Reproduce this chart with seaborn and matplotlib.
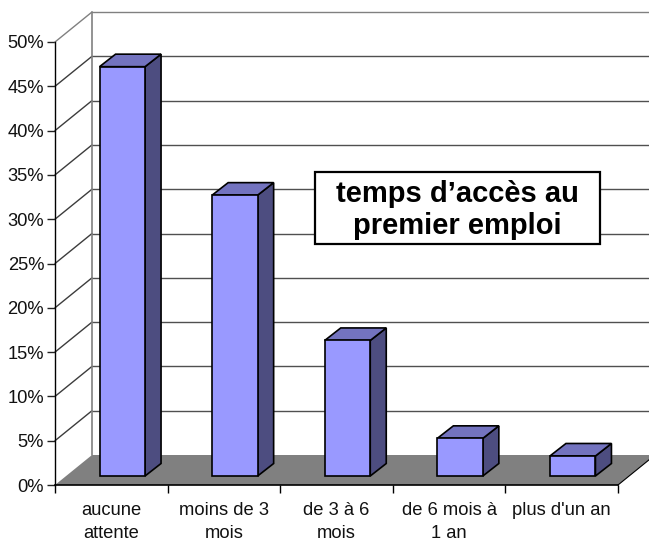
import matplotlib
matplotlib.use("Agg")
import matplotlib.pyplot as plt
import seaborn as sns
from matplotlib.patches import Polygon, Rectangle

# valeurs
categories = ["aucune\nattente", "moins de 3\nmois", "de 3 à 6\nmois", "de 6 mois à\n1 an", "plus d'un an"]
valeurs = [46.2, 31.7, 15.3, 4.25, 2.26]
graduations = [0, 5, 10, 15, 20, 25, 30, 35, 40, 45, 50]

sns.set_style("white")
plt.rcParams['font.family'] = ['Liberation Sans', 'DejaVu Sans']

W, H = 649, 541
fig = plt.figure(figsize=(W / 100, H / 100), dpi=100)
ax = fig.add_axes([55 / W, (H - 485) / H, (618 - 55) / W, (485 - 42) / H])

# profondeur du mur (px convertis en unites de donnees)
px_x = 5 / (618 - 55)
px_y = 50 / (485 - 42)
mur_dx, mur_dy = 37 * px_x, 30 * px_y
barre_dx, barre_dy = 16 * px_x, 12.5 * px_y
base = 9 * px_y
decalage = 11 * px_x

# barres
sns.barplot(x=categories, y=valeurs, color="#9999FF", saturation=1, width=0.404,
            edgecolor="black", linewidth=1.2, ax=ax, zorder=5)
ax.set_xlim(-0.5, 4.5)
ax.set_ylim(0, 50)

# sol
ax.add_patch(Polygon([(-0.5, 0), (4.5, 0), (4.5 + mur_dx, mur_dy), (-0.5 + mur_dx, mur_dy)],
                     closed=True, fc="#808080", ec="none", zorder=1, clip_on=False))

# lignes du mur du fond et du mur gauche
for v in graduations[1:]:
    col = "#808080" if v == 50 else "#3c3c3c"
    ax.plot([-0.5, -0.5 + mur_dx], [v, v + mur_dy], color=col, lw=1, zorder=2, clip_on=False)
    ax.plot([-0.5 + mur_dx, 4.5 + mur_dx], [v + mur_dy, v + mur_dy],
            color="#808080" if v == 50 else "#505050", lw=1, zorder=2, clip_on=False)
ax.plot([-0.5 + mur_dx, -0.5 + mur_dx], [mur_dy, 50 + mur_dy], color="#808080", lw=1.2, zorder=2, clip_on=False)
ax.plot([4.5, 4.5 + mur_dx], [0, mur_dy], color="black", lw=0.8, zorder=2, clip_on=False)

# faces des barres
for p in ax.patches:
    if not isinstance(p, Rectangle):
        continue
    p.set_x(p.get_x() + decalage)
    p.set_y(base)
    x0, x1 = p.get_x(), p.get_x() + p.get_width()
    y0, y1 = base, base + p.get_height()
    ax.add_patch(Polygon([(x1, y0), (x1 + barre_dx, y0 + barre_dy), (x1 + barre_dx, y1 + barre_dy), (x1, y1)],
                         closed=True, fc="#4D4D80", ec="black", lw=1.2, zorder=4))
    ax.add_patch(Polygon([(x0, y1), (x1, y1), (x1 + barre_dx, y1 + barre_dy), (x0 + barre_dx, y1 + barre_dy)],
                         closed=True, fc="#7373BF", ec="black", lw=1.2, zorder=4))

# axes
sns.despine(ax=ax, top=True, right=True)
ax.spines['left'].set_color("black")
ax.spines['bottom'].set_color("black")
ax.spines['left'].set_linewidth(1)
ax.spines['bottom'].set_linewidth(1.2)
ax.spines['left'].set_zorder(6)
ax.spines['bottom'].set_zorder(6)
ax.set_yticks(graduations)
ax.set_yticklabels([f"{v}%" for v in graduations], fontsize=13.2, color="#111111")
ax.tick_params(axis='y', left=True, length=6, width=1, color="#222222", pad=1.8)
ax.set_xticks(range(len(categories)))
ax.set_xticklabels(categories, fontsize=13.2, linespacing=1.5, color="#111111")
ax.set_xticks([i - 0.5 for i in range(len(categories) + 1)], minor=True)
ax.tick_params(axis='x', which='major', length=0, pad=12)
ax.tick_params(axis='x', which='minor', bottom=True, length=6, width=1, color="black")

# encadre du titre
fig.add_artist(Rectangle((315 / W, (H - 244) / H), (599.5 - 315) / W, 72 / H, transform=fig.transFigure,
                         fc="white", ec="black", lw=1.6, zorder=8))
fig.text(457.5 / W, (H - 210) / H, "temps d’accès au\npremier emploi", ha="center", va="center",
         fontsize=21, fontweight="bold", linespacing=1.2, color="black", zorder=9)

plt.savefig("out.png", dpi=100)
